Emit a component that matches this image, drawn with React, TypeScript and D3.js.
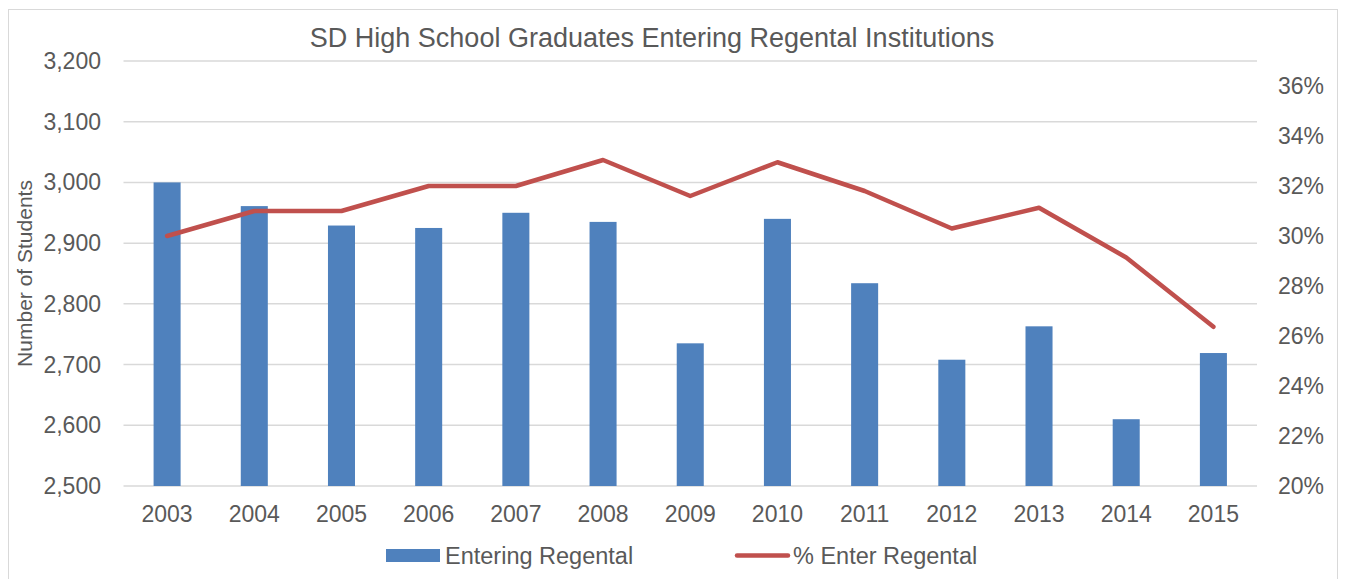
import * as d3 from "d3";
import React, { useRef, useEffect } from "react";

const years = ["2003", "2004", "2005", "2006", "2007", "2008", "2009", "2010", "2011", "2012", "2013", "2014", "2015"];
const entering = [3000, 2961, 2929, 2925, 2950, 2935, 2735, 2940, 2834, 2708, 2763, 2610, 2719];
const pctEnter = [0.300, 0.310, 0.310, 0.320, 0.320, 0.3304, 0.316, 0.3295, 0.318, 0.303, 0.3113, 0.2914, 0.2637];
const leftTicks = [2500, 2600, 2700, 2800, 2900, 3000, 3100, 3200];
const rightTicks = [0.2, 0.22, 0.24, 0.26, 0.28, 0.3, 0.32, 0.34, 0.36];

const W = 1346, H = 579;
const plot = { left: 123.5, right: 1257, top: 61, bottom: 486 };
const textColor = "#595959";
const font = "Liberation Sans, Arial, sans-serif";

function App() {
  const ref = useRef(null);

  useEffect(() => {
    const svg = d3.select(ref.current);
    svg.selectAll("*").remove();

    // outer frame
    svg.append("rect")
      .attr("x", 8.5).attr("y", 9.5)
      .attr("width", 1329).attr("height", 580)
      .attr("fill", "white").attr("stroke", "#d9d9d9").attr("stroke-width", 1);

    var x = d3.scaleBand().domain(years).range([plot.left, plot.right]);
    var y = d3.scaleLinear().domain([2500, 3200]).range([plot.bottom, plot.top]);
    var y2 = d3.scaleLinear().domain([0.2, 0.37]).range([plot.bottom, plot.top]);

    // gridlines
    svg.append("g")
      .selectAll("line")
      .data(leftTicks)
      .enter()
      .append("line")
      .attr("x1", plot.left).attr("x2", plot.right)
      .attr("y1", (d) => y(d)).attr("y2", (d) => y(d))
      .attr("stroke", "#d9d9d9").attr("stroke-width", 1.5);

    // left axis labels
    svg.append("g")
      .selectAll("text")
      .data(leftTicks)
      .enter()
      .append("text")
      .attr("x", 101)
      .attr("y", (d) => y(d))
      .attr("dy", "0.35em")
      .attr("text-anchor", "end")
      .attr("font-size", 23)
      .attr("font-family", font)
      .attr("fill", textColor)
      .text((d) => d3.format(",")(d));

    // right axis labels
    svg.append("g")
      .selectAll("text")
      .data(rightTicks)
      .enter()
      .append("text")
      .attr("x", 1278)
      .attr("y", (d) => y2(d))
      .attr("dy", "0.35em")
      .attr("font-size", 23)
      .attr("font-family", font)
      .attr("fill", textColor)
      .text((d) => d3.format(".0%")(d));

    // x labels
    svg.append("g")
      .selectAll("text")
      .data(years)
      .enter()
      .append("text")
      .attr("x", (d) => x(d) + x.bandwidth() / 2)
      .attr("y", 522)
      .attr("text-anchor", "middle")
      .attr("font-size", 23)
      .attr("font-family", font)
      .attr("fill", textColor)
      .text((d) => d);

    // bars
    var bw = x.bandwidth() * 0.31;
    svg.append("g")
      .selectAll("rect")
      .data(entering)
      .enter()
      .append("rect")
      .attr("x", (d, i) => x(years[i]) + x.bandwidth() / 2 - bw / 2)
      .attr("y", (d) => y(d))
      .attr("width", bw)
      .attr("height", (d) => plot.bottom - y(d))
      .attr("fill", "#4f81bd");

    // line
    var line = d3.line()
      .x((d, i) => x(years[i]) + x.bandwidth() / 2)
      .y((d) => y2(d));
    svg.append("path")
      .datum(pctEnter)
      .attr("d", line)
      .attr("fill", "none")
      .attr("stroke", "#c0504d")
      .attr("stroke-width", 4.5)
      .attr("stroke-linejoin", "round")
      .attr("stroke-linecap", "round");

    // title
    svg.append("text")
      .attr("x", 652).attr("y", 46.5)
      .attr("text-anchor", "middle")
      .attr("font-size", 27)
      .attr("font-family", font)
      .attr("fill", textColor)
      .text("SD High School Graduates Entering Regental Institutions");

    // y axis title
    svg.append("text")
      .attr("transform", `translate(32,${(plot.top + plot.bottom) / 2})rotate(-90)`)
      .attr("text-anchor", "middle")
      .attr("font-size", 21)
      .attr("font-family", font)
      .attr("fill", textColor)
      .text("Number of Students");

    // legend
    var lg = svg.append("g");
    lg.append("rect")
      .attr("x", 386).attr("y", 549)
      .attr("width", 54).attr("height", 13)
      .attr("fill", "#4f81bd");
    lg.append("text")
      .attr("x", 445).attr("y", 564)
      .attr("font-size", 23.5).attr("font-family", font).attr("fill", textColor)
      .text("Entering Regental");
    lg.append("line")
      .attr("x1", 737).attr("x2", 788)
      .attr("y1", 555.5).attr("y2", 555.5)
      .attr("stroke", "#c0504d").attr("stroke-width", 4.5)
      .attr("stroke-linecap", "round");
    lg.append("text")
      .attr("x", 793).attr("y", 564)
      .attr("font-size", 23.5).attr("font-family", font).attr("fill", textColor)
      .text("% Enter Regental");
  }, []);

  return (
    <svg
      ref={ref}
      width={W}
      height={H}
      style={{ position: "absolute", left: 0, top: 0, background: "white" }}
    ></svg>
  );
}

export default App;
